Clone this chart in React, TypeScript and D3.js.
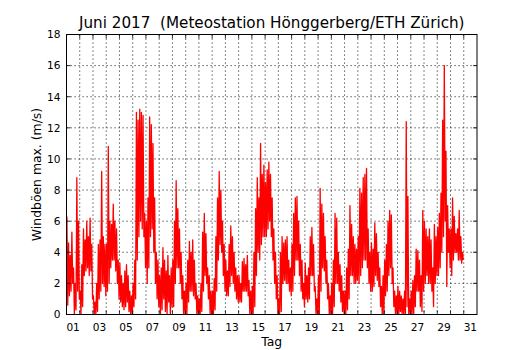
import React from 'react';
import * as d3 from 'd3';

const title = 'Juni 2017  (Meteostation Hönggerberg/ETH Zürich)';
const yLabel = 'Windböen max. (m/s)';
const xLabel = 'Tag';
const yTicks = [0, 2, 4, 6, 8, 10, 12, 14, 16, 18];
const dayLabels = ['01', '03', '05', '07', '09', '11', '13', '15', '17', '19', '21', '23', '25', '27', '29', '31'];
const binsPerDay = 8; // 3-hour bins, June 1 00:00 .. July 1 00:00

// max gust per 3h bin (m/s)
const hi = [
  6.3, 4.6, 3.8, 5.3, 3.0, 2.0, 8.8, 6.0,
  1.5, 3.2, 5.5, 4.8, 6.0, 5.0, 6.2, 4.5,
  1.2, 0.8, 2.0, 4.5, 4.8, 9.2, 5.0, 4.5,
  4.5, 10.8, 6.0, 5.8, 7.1, 6.0, 5.5, 3.5,
  3.3, 2.5, 2.0, 2.8, 3.2, 2.5, 1.5, 1.2,
  2.0, 3.5, 13.0, 12.5, 13.2, 13.0, 12.8, 6.5,
  6.0, 7.5, 12.7, 12.2, 11.0, 7.5, 4.0, 3.5,
  2.5, 3.0, 4.3, 3.5, 2.8, 3.8, 2.5, 3.0,
  3.5, 6.0, 8.6, 6.8, 5.5, 4.0, 2.5, 1.5,
  2.0, 3.5, 4.7, 4.0, 4.8, 3.5, 2.0, 1.2,
  1.0, 2.0, 5.3, 6.5, 5.2, 3.0, 2.5, 1.5,
  1.5, 2.3, 5.0, 7.5, 9.2, 8.0, 6.0, 4.5,
  3.5, 2.8, 4.5, 5.7, 5.0, 4.0, 3.0, 2.5,
  2.5, 2.0, 3.4, 3.6, 3.2, 3.8, 2.2, 1.5,
  1.8, 4.0, 6.8, 8.8, 7.5, 11.0, 9.0, 9.6,
  8.5, 9.3, 9.8, 9.0, 7.5, 5.5, 4.0, 2.5,
  1.0, 4.0, 5.0, 4.6, 4.8, 5.0, 3.5, 3.0,
  4.5, 6.5, 7.5, 7.6, 6.0, 4.5, 3.5, 2.0,
  3.3, 2.5, 3.0, 5.0, 5.6, 4.5, 1.8, 1.0,
  2.5, 8.1, 7.1, 6.5, 5.0, 3.5, 2.0, 1.2,
  2.0, 3.5, 6.5, 6.2, 4.0, 3.2, 2.5, 1.5,
  1.5, 3.0, 4.2, 7.0, 5.8, 5.0, 4.5, 4.2,
  5.0, 8.1, 7.8, 8.8, 9.0, 9.4, 5.5, 4.0,
  4.6, 4.2, 5.9, 5.2, 4.0, 3.0, 1.8, 2.5,
  3.5, 4.5, 6.0, 6.7, 6.4, 3.0, 1.5, 1.2,
  1.8, 1.5, 1.2, 1.0, 1.5, 12.4, 7.6, 1.0,
  1.5, 2.2, 2.5, 4.2, 4.1, 3.5, 2.5, 6.7,
  6.0, 5.5, 5.0, 5.5, 4.8, 3.0, 5.8, 5.0,
  5.6, 6.5, 7.8, 12.5, 16.0, 10.5, 7.0, 5.5,
  5.5, 7.5, 6.3, 5.2, 5.5, 6.7, 5.0, 4.0,
];

// min gust per 3h bin (m/s)
const lo = [
  0.6, 1.2, 1.5, 2.0, 0.0, 0.3, 1.5, 1.0,
  0.0, 0.5, 2.5, 2.8, 3.0, 2.5, 2.8, 1.0,
  0.0, 0.0, 0.2, 1.0, 1.5, 2.0, 1.8, 1.2,
  1.5, 2.0, 3.0, 3.5, 3.5, 2.8, 2.0, 1.0,
  0.8, 0.5, 0.3, 0.5, 0.8, 0.2, 0.0, 0.0,
  0.5, 1.0, 3.5, 5.0, 6.0, 5.5, 5.0, 3.0,
  2.0, 3.0, 5.0, 5.5, 4.0, 2.0, 1.0, 0.5,
  0.0, 0.3, 1.0, 0.2, 0.0, 0.8, 0.0, 0.5,
  0.5, 2.0, 3.0, 3.0, 2.0, 1.0, 0.0, 0.0,
  0.0, 0.8, 1.5, 1.5, 1.2, 1.0, 0.0, 0.0,
  0.0, 0.2, 1.5, 2.5, 2.0, 1.0, 0.0, 0.0,
  0.0, 0.3, 1.5, 3.5, 4.5, 4.0, 2.5, 1.5,
  1.2, 1.2, 1.8, 2.5, 2.0, 1.5, 1.0, 0.8,
  0.8, 0.8, 1.5, 1.5, 1.5, 1.2, 0.0, 0.0,
  0.0, 0.5, 2.5, 4.0, 3.5, 4.5, 5.0, 5.0,
  5.0, 5.5, 6.0, 5.0, 3.5, 2.0, 1.0, 0.0,
  0.0, 0.2, 2.0, 2.2, 2.0, 2.0, 1.5, 1.2,
  1.5, 2.5, 3.5, 3.5, 2.5, 1.5, 1.0, 0.5,
  1.0, 0.8, 1.0, 2.5, 2.5, 1.5, 0.0, 0.0,
  0.0, 1.5, 3.0, 2.8, 2.0, 1.0, 0.0, 0.0,
  0.0, 0.5, 2.0, 2.0, 1.5, 0.8, 0.2, 0.0,
  0.0, 0.3, 1.0, 2.5, 2.5, 2.0, 2.0, 2.2,
  2.0, 2.5, 3.0, 3.5, 3.5, 3.0, 2.0, 1.5,
  1.5, 1.8, 2.5, 2.2, 1.8, 0.5, 0.0, 0.0,
  1.2, 1.5, 2.5, 3.0, 2.0, 0.5, 0.0, 0.0,
  0.0, 0.2, 0.0, 0.0, 0.0, 0.5, 0.0, 0.0,
  0.0, 0.0, 0.5, 1.5, 1.5, 0.5, 0.2, 1.5,
  2.0, 2.5, 2.0, 2.0, 1.5, 0.5, 2.0, 2.5,
  2.5, 3.0, 4.0, 5.0, 6.0, 1.8, 4.0, 3.0,
  2.5, 3.5, 4.0, 4.0, 3.5, 3.5, 3.3, 3.5,
];

export default function App() {
  const W = 530, H = 350;
  const L = 66.5, R = 477, T = 34.5, B = 314.5;
  const x = d3.scaleLinear().domain([0, 31]).range([L, R]);
  const y = d3.scaleLinear().domain([0, 18]).range([B, T]);
  const font = 'DejaVu Sans';

  const pts: [number, number][] = [];
  hi.forEach((h, i) => {
    pts.push([(i + 0.25) / binsPerDay, h]);
    pts.push([(i + 0.75) / binsPerDay, lo[i]]);
  });
  const line = d3.line<[number, number]>().x(d => x(d[0])).y(d => y(d[1]));
  const dayLines = d3.range(1, 31);

  return (
    <svg width={W} height={H} style={{ position: 'absolute', left: 0, top: 0, background: '#fff' }}>
      <rect x={0} y={0} width={W} height={H} fill="#fff" />
      <defs>
        <clipPath id="plotclip">
          <rect x={L} y={T} width={R - L} height={B - T} />
        </clipPath>
      </defs>
      {/* grid */}
      {yTicks.slice(1, -1).map(v => (
        <line key={'gy' + v} x1={L} x2={R} y1={y(v)} y2={y(v)} stroke="#000" strokeWidth={0.8} strokeDasharray="1.2,2.8" />
      ))}
      {dayLines.map(d => (
        <line key={'gx' + d} x1={x(d)} x2={x(d)} y1={T} y2={B} stroke="#000" strokeWidth={0.8} strokeDasharray="1.2,2.8" />
      ))}
      {/* data */}
      <path d={line(pts) || ''} fill="none" stroke="#ff0000" strokeWidth={1.3} strokeLinejoin="round" clipPath="url(#plotclip)" />
      {/* ticks */}
      {yTicks.map(v => (
        <g key={'ty' + v}>
          <line x1={L} x2={L + 4} y1={y(v)} y2={y(v)} stroke="#000" strokeWidth={0.8} />
          <line x1={R - 4} x2={R} y1={y(v)} y2={y(v)} stroke="#000" strokeWidth={0.8} />
          <text x={L - 6} y={y(v)} dy="0.36em" textAnchor="end" fontFamily={font} fontSize={10.6} fill="#000">{v}</text>
        </g>
      ))}
      {dayLines.map(d => (
        <g key={'tx' + d}>
          <line x1={x(d)} x2={x(d)} y1={B} y2={B - 4} stroke="#000" strokeWidth={0.8} />
          <line x1={x(d)} x2={x(d)} y1={T} y2={T + 4} stroke="#000" strokeWidth={0.8} />
        </g>
      ))}
      {dayLabels.map(lbl => (
        <text key={'lx' + lbl} x={x(+lbl - 0.5)} y={330.5} textAnchor="middle" fontFamily={font} fontSize={10.6} fill="#000">{lbl}</text>
      ))}
      {/* frame */}
      <rect x={L} y={T} width={R - L} height={B - T} fill="none" stroke="#000" strokeWidth={1} />
      {/* labels */}
      <text x={(L + R) / 2} y={28.3} textAnchor="middle" fontFamily={font} fontSize={15.2} fill="#000" style={{ whiteSpace: 'pre' }}>{title}</text>
      <text x={(L + R) / 2} y={346} textAnchor="middle" fontFamily={font} fontSize={12.4} fill="#000">{xLabel}</text>
      <text transform={`translate(41,${(T + B) / 2}) rotate(-90)`} textAnchor="middle" fontFamily={font} fontSize={12.4} fill="#000">{yLabel}</text>
    </svg>
  );
}
